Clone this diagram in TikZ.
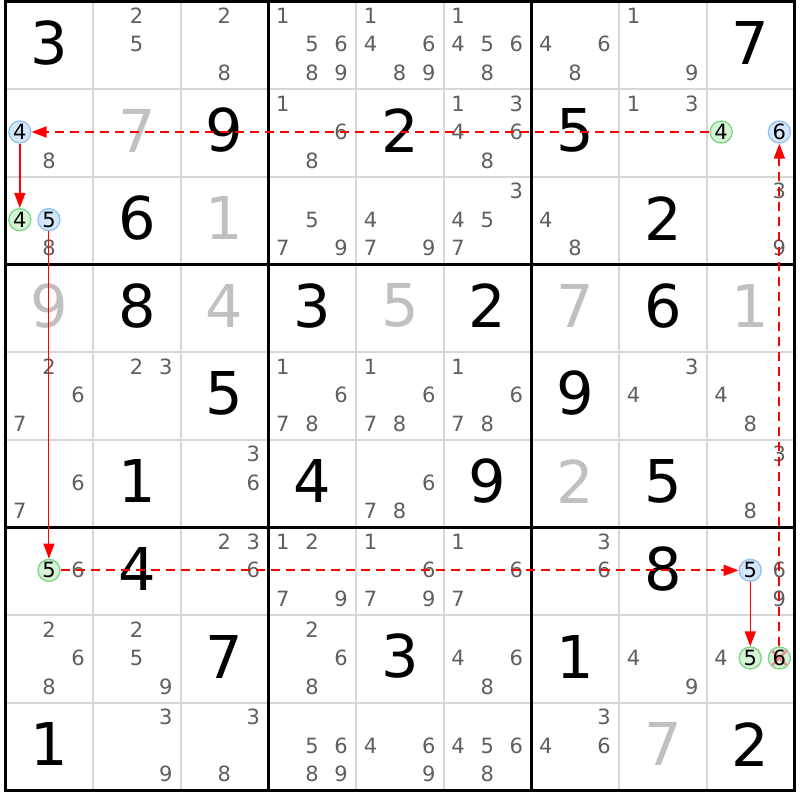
\documentclass[tikz,border=0pt]{standalone}
\usepackage{fontspec}
\setmainfont{DejaVu Sans}
\usetikzlibrary{arrows.meta}
\definecolor{candgray}{RGB}{95,95,95}
\definecolor{solvedgray}{RGB}{192,192,192}
\definecolor{gridgray}{RGB}{215,215,215}
\definecolor{gfill}{RGB}{214,243,214}
\definecolor{gline}{RGB}{130,214,140}
\definecolor{bfill}{RGB}{212,230,250}
\definecolor{bline}{RGB}{150,195,240}
\definecolor{linkred}{RGB}{255,0,0}
\definecolor{xpink}{RGB}{240,140,140}
\def\sz{87.667}
\newcommand\sdkpos[3]{%
  \pgfmathsetmacro\sdkx{5.5+(#2-0.5)*\sz+(mod(#3-1,3)-1)*29.1-0.4}%
  \pgfmathsetmacro\sdky{1.5+(#1-0.5)*\sz+(int((#3-1)/3)-1)*28.5-1}}
\begin{document}
\begin{tikzpicture}[x=1pt,y=-1pt,
  cand/.style={text=candgray,font=\fontsize{21}{21}\selectfont,inner sep=0pt},
  givenbig/.style={text=black,font=\fontsize{59}{59}\selectfont,inner sep=0pt},
  solvedbig/.style={givenbig,text=solvedgray},
  gcirc/.style={circle,draw=gline,fill=gfill,line width=1.4pt,minimum size=22pt,inner sep=0pt,font=\fontsize{21}{21}\selectfont,text=black},
  bcirc/.style={gcirc,draw=bline,fill=bfill},
  stronglink/.style={draw=linkred,line width=1.5pt,-{Triangle[length=15pt,width=11pt]}},
  weaklink/.style={stronglink,line width=1.8pt,dash pattern=on 9pt off 6pt},
  thinlink/.style={stronglink,line width=1pt},
  cellline/.style={draw=gridgray,line width=2pt},
  boxline/.style={draw=black,line width=3pt},
  xline/.style={draw=xpink,line width=2.5pt}]
\fill[white] (0,0) rectangle (800,800);
\useasboundingbox (0,0) rectangle (800,800);
% grid
\foreach \i in {1,2,4,5,7,8} {
  \draw[cellline] ({5.5+\i*\sz},1.5) -- ({5.5+\i*\sz},790.5);
  \draw[cellline] (5.5,{1.5+\i*\sz}) -- (794.5,{1.5+\i*\sz});
}
\foreach \i in {3,6} {
  \draw[boxline] ({5.5+\i*\sz},1.5) -- ({5.5+\i*\sz},790.5);
  \draw[boxline] (5.5,{1.5+\i*\sz}) -- (794.5,{1.5+\i*\sz});
}
\draw[boxline] (5.5,1.5) rectangle (794.5,790.5);
% given digits
\foreach \r/\c/\v in {1/1/3,1/9/7,2/3/9,2/5/2,2/7/5,3/2/6,3/8/2,4/2/8,4/4/3,4/6/2,4/8/6,
  5/3/5,5/7/9,6/2/1,6/4/4,6/6/9,6/8/5,7/2/4,7/8/8,8/3/7,8/5/3,8/7/1,9/1/1,9/9/2} {
  \node[givenbig] (b-\r-\c) at ({5.5+(\c-0.5)*\sz},{1.5+(\r-0.5)*\sz-2.5}) {\v};
}
% solved digits
\foreach \r/\c/\v in {2/2/7,3/3/1,4/1/9,4/3/4,4/5/5,4/7/7,4/9/1,6/7/2,9/8/7} {
  \node[solvedbig] (b-\r-\c) at ({5.5+(\c-0.5)*\sz},{1.5+(\r-0.5)*\sz-2.5}) {\v};
}
% candidates
\foreach \r/\c/\ds in {1/2/{2,5},1/3/{2,8},1/4/{1,5,6,8,9},1/5/{1,4,6,8,9},1/6/{1,4,5,6,8},
  1/7/{4,6,8},1/8/{1,9},2/1/{8},2/4/{1,6,8},2/6/{1,3,4,6,8},2/8/{1,3},
  3/1/{8},3/4/{5,7,9},3/5/{4,7,9},3/6/{3,4,5,7},3/7/{4,8},3/9/{3,9},
  5/1/{2,6,7},5/2/{2,3},5/4/{1,6,7,8},5/5/{1,6,7,8},5/6/{1,6,7,8},5/8/{3,4},5/9/{4,8},
  6/1/{6,7},6/3/{3,6},6/5/{6,7,8},6/9/{3,8},
  7/1/{6},7/3/{2,3,6},7/4/{1,2,7,9},7/5/{1,6,7,9},7/6/{1,6,7},7/7/{3,6},7/9/{6,9},
  8/1/{2,6,8},8/2/{2,5,9},8/4/{2,6,8},8/6/{4,6,8},8/8/{4,9},8/9/{4},
  9/2/{3,9},9/3/{3,8},9/4/{5,6,8,9},9/5/{4,6,9},9/6/{4,5,6,8},9/7/{3,4,6}} {
  \foreach \d in \ds {
    \sdkpos{\r}{\c}{\d}
    \node[cand] (k-\r-\c-\d) at (\sdkx,\sdky) {\d};
  }
}
% highlighted candidates
\sdkpos{2}{1}{4}\node[bcirc] (n21-4) at (\sdkx,\sdky) {4};
\sdkpos{3}{1}{4}\node[gcirc] (n31-4) at (\sdkx,\sdky) {4};
\sdkpos{3}{1}{5}\node[bcirc] (n31-5) at (\sdkx,\sdky) {5};
\sdkpos{2}{9}{4}\node[gcirc] (n29-4) at (\sdkx,\sdky) {4};
\sdkpos{2}{9}{6}\node[bcirc] (n29-6) at (\sdkx,\sdky) {6};
\sdkpos{7}{1}{5}\node[gcirc] (n71-5) at (\sdkx,\sdky) {5};
\sdkpos{7}{9}{5}\node[bcirc] (n79-5) at (\sdkx,\sdky) {5};
\sdkpos{8}{9}{5}\node[gcirc] (n89-5) at (\sdkx,\sdky) {5};
\sdkpos{8}{9}{6}\node[gcirc] (n89-6) at (\sdkx,\sdky) {};
\draw[xline] ([shift={(-7,-7)}]n89-6.center) -- ([shift={(7,7)}]n89-6.center);
\draw[xline] ([shift={(-7,7)}]n89-6.center) -- ([shift={(7,-7)}]n89-6.center);
\node[font=\fontsize{21}{21}\selectfont,text=black,inner sep=0pt] (n89-6t) at (n89-6.center) {6};
% links
\draw[weaklink] (n29-4) -- (n21-4);
\draw[stronglink] (n21-4) -- (n31-4);
\draw[thinlink] (n31-5) -- (n71-5);
\draw[weaklink] (n71-5) -- (n79-5);
\draw[stronglink] (n79-5) -- (n89-5);
\draw[weaklink] (n89-6) -- (n29-6);
\end{tikzpicture}
\end{document}
